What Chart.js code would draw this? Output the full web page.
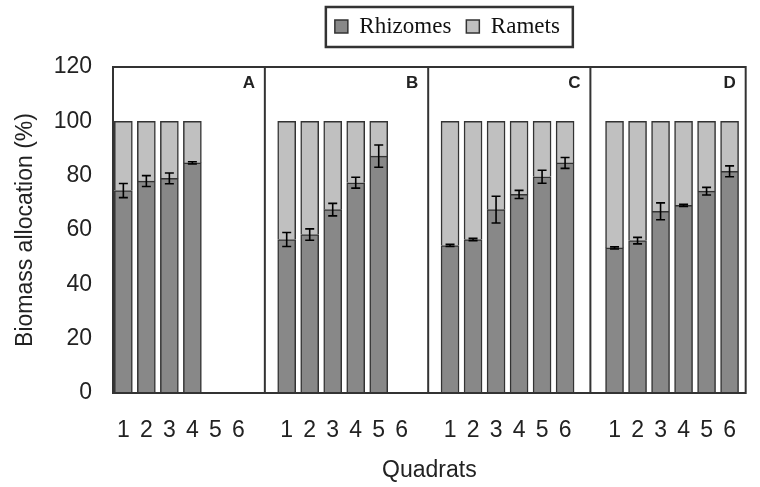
<!DOCTYPE html>
<html>
<head>
<meta charset="utf-8">
<script src="https://cdn.jsdelivr.net/npm/chart.js@4.4.1/dist/chart.umd.min.js"></script>
<style>
  html, body { margin: 0; padding: 0; background: #fff; }
  #wrap { width: 760px; height: 487px; }
</style>
</head>
<body>
<div id="wrap"><canvas id="chart" width="760" height="487"></canvas></div>
<script>
const panelNames = ['A', 'B', 'C', 'D']
const quadratLabels = ['1', '2', '3', '4', '5', '6']

// Rhizome share of biomass (%) per quadrat
const rhizomesA = [74.5, 78.0, 79.0, 84.7, null, null]
const rhizomesB = [56.5, 58.3, 67.5, 77.4, 87.2, null]
const rhizomesC = [54.3, 56.5, 67.5, 73.1, 79.6, 84.7]
const rhizomesD = [53.4, 56.1, 66.9, 69.1, 74.3, 81.6]

// Ramet share of biomass (%) per quadrat
const rametsA = [25.5, 22.0, 21.0, 15.3, null, null]
const rametsB = [43.5, 41.7, 32.5, 22.6, 12.8, null]
const rametsC = [45.7, 43.5, 32.5, 26.9, 20.4, 15.3]
const rametsD = [46.6, 43.9, 33.1, 30.9, 25.7, 18.4]

// standard errors on the rhizome share
const errA = [2.6, 2.0, 2.0, 0.4, null, null]
const errB = [2.6, 2.1, 2.3, 2.0, 4.1, null]
const errC = [0.4, 0.4, 4.9, 1.5, 2.4, 2.0]
const errD = [0.4, 1.2, 3.1, 0.4, 1.4, 2.0]

// x layout, in quadrat-width units
const panelEdges = [0, 6.6, 13.7, 20.75, 27.5]
const firstQuadrat = [0.45, 7.55, 14.65, 21.8]

const rhizomes = [rhizomesA, rhizomesB, rhizomesC, rhizomesD]
const ramets = [rametsA, rametsB, rametsC, rametsD]
const errors = [errA, errB, errC, errD]

function toPoints(series) {
  const pts = []
  series.forEach((vals, p) => {
    vals.forEach((v, k) => pts.push({ x: firstQuadrat[p] + k, y: v }))
  })
  return pts
}

const tickValues = []
const tickText = []
panelNames.forEach((_, p) => {
  quadratLabels.forEach((q, k) => {
    tickValues.push(firstQuadrat[p] + k)
    tickText.push(q)
  })
})

const sans = '"Liberation Sans", Arial, sans-serif'
const serif = '"Liberation Serif", "Times New Roman", serif'

const panelPlugin = {
  id: 'panels',
  afterLayout(chart) {
    // sit the legend a little right of centre, as in the figure
    const lg = chart.legend
    const ca = chart.chartArea
    const shift = (ca.left + ca.right) / 2 + 18 - (lg.left + lg.right) / 2
    lg.left += shift
    lg.right += shift
  },
  afterDatasetsDraw(chart) {
    const { ctx } = chart
    const y = chart.scales.y
    const meta = chart.getDatasetMeta(0)
    const vals = rhizomes.flat()
    const errs = errors.flat()
    ctx.save()
    ctx.strokeStyle = '#000'
    ctx.lineWidth = 1.6
    meta.data.forEach((bar, i) => {
      if (vals[i] == null || errs[i] == null) return
      const hi = y.getPixelForValue(vals[i] + errs[i])
      const lo = y.getPixelForValue(vals[i] - errs[i])
      ctx.beginPath()
      ctx.moveTo(bar.x, hi); ctx.lineTo(bar.x, lo)
      ctx.moveTo(bar.x - 4.5, hi); ctx.lineTo(bar.x + 4.5, hi)
      ctx.moveTo(bar.x - 4.5, lo); ctx.lineTo(bar.x + 4.5, lo)
      ctx.stroke()
    })
    ctx.restore()
  },
  afterDraw(chart) {
    const { ctx, chartArea: ca } = chart
    const x = chart.scales.x
    ctx.save()
    ctx.strokeStyle = '#333'
    ctx.lineWidth = 2
    ctx.strokeRect(ca.left, ca.top, ca.right - ca.left, ca.bottom - ca.top)
    ctx.beginPath()
    panelEdges.slice(1, -1).forEach(e => {
      const px = x.getPixelForValue(e)
      ctx.moveTo(px, ca.top); ctx.lineTo(px, ca.bottom)
    })
    ctx.stroke()

    ctx.fillStyle = '#222'
    ctx.font = 'bold 17px ' + sans
    ctx.textAlign = 'center'
    ctx.textBaseline = 'middle'
    panelNames.forEach((name, p) => {
      ctx.fillText(name, x.getPixelForValue(panelEdges[p + 1]) - 16, ca.top + 16)
    })

    // frame round the legend
    const hb = chart.legend.legendHitBoxes
    if (hb && hb.length) {
      const first = hb[0]
      const last = hb[hb.length - 1]
      ctx.lineWidth = 2.5
      ctx.strokeStyle = '#333'
      ctx.strokeRect(first.left - 9, first.top - 8,
        last.left + last.width + 13 - (first.left - 9), first.height + 17)
    }
    ctx.restore()
  }
}

new Chart(document.getElementById('chart'), {
  type: 'bar',
  data: {
    datasets: [
      {
        label: 'Rhizomes',
        data: toPoints(rhizomes),
        backgroundColor: '#888888',
        borderColor: '#333333',
        borderWidth: 1.5,
        barThickness: 18
      },
      {
        label: 'Ramets',
        data: toPoints(ramets),
        backgroundColor: '#c0c0c0',
        borderColor: '#333333',
        borderWidth: 1.5,
        barThickness: 18
      }
    ]
  },
  options: {
    responsive: false,
    animation: false,
    layout: { padding: { top: 0, right: 1, bottom: 0, left: 0 } },
    plugins: {
      tooltip: { enabled: false },
      legend: {
        position: 'top',
        labels: {
          boxWidth: 13,
          boxHeight: 13,
          padding: 15,
          color: '#111',
          font: { family: serif, size: 23 }
        }
      },
      // empty title used as a spacer between legend and plot
      title: {
        display: true,
        text: '',
        weight: 500,
        font: { size: 10 },
        padding: { top: 0, bottom: 7 }
      }
    },
    scales: {
      x: {
        type: 'linear',
        stacked: true,
        offset: false,
        min: panelEdges[0],
        max: panelEdges[panelEdges.length - 1],
        grid: { display: false, drawTicks: false },
        border: { display: false },
        afterBuildTicks: scale => {
          scale.ticks = tickValues.map(v => ({ value: v }))
        },
        afterFit: scale => { scale.height = 94 },
        ticks: {
          autoSkip: false,
          maxRotation: 0,
          minRotation: 0,
          padding: 24,
          color: '#222',
          font: { family: sans, size: 23 },
          callback: (value, index) => tickText[index]
        },
        title: {
          display: true,
          text: 'Quadrats',
          color: '#222',
          font: { family: sans, size: 23 },
          padding: { top: 0, bottom: 3 }
        }
      },
      y: {
        stacked: true,
        min: 0,
        max: 120,
        grid: { display: false, drawTicks: false },
        border: { display: false },
        afterFit: scale => { scale.width = 113 },
        ticks: {
          stepSize: 20,
          padding: 21,
          color: '#222',
          font: { family: sans, size: 23 }
        },
        title: {
          display: true,
          text: 'Biomass allocation (%)',
          color: '#222',
          font: { family: sans, size: 23 },
          padding: { top: 12, bottom: 0 }
        }
      }
    }
  },
  plugins: [panelPlugin]
})
</script>
</body>
</html>
